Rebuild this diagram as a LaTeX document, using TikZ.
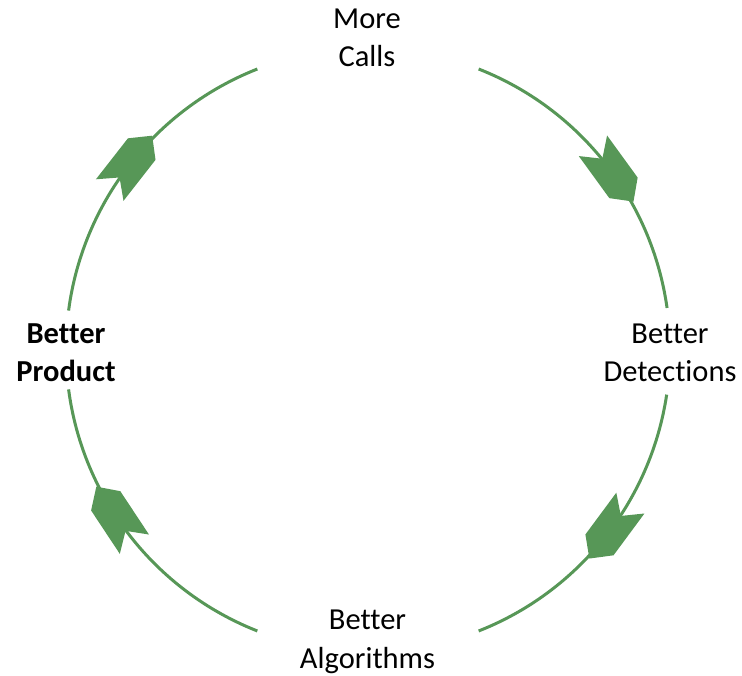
\documentclass[tikz,border=0pt]{standalone}
\usepackage{fontspec}
\setmainfont{Carlito}[RawFeature={-liga}]
\usetikzlibrary{calc}
\definecolor{cycgreen}{RGB}{87,151,87}
\begin{document}
\begin{tikzpicture}[x=1pt,y=1pt,
  cycarc/.style={draw=cycgreen, line width=3pt},
  cychead/.style={fill=cycgreen},
  lbl/.style={align=center, inner sep=0pt, font=\fontsize{30.5}{38.5}\selectfont}]
\useasboundingbox (0,0) rectangle (742,676);
\coordinate (c) at (368,326);
\node[lbl] (calls) at (367,638.3) {More\\Calls};
\node[lbl] (detect) at (670,323.3) {Better\\Detections};
\node[lbl] (algo) at (367.5,34) {Better\\Algorithms};
\node[lbl, font=\fontsize{30.5}{38.5}\selectfont\bfseries] (product) at (66,323.3) {Better\\Product};
\draw[cycarc] ($(c)+(68.5:302)$) arc[start angle=68.5, end angle=8, radius=302];
\draw[cycarc] ($(c)+(-8.5:302)$) arc[start angle=-8.5, end angle=-68.5, radius=302];
\draw[cycarc] ($(c)+(248.5:302)$) arc[start angle=248.5, end angle=187.5, radius=302];
\draw[cycarc] ($(c)+(172.5:302)$) arc[start angle=172.5, end angle=111.5, radius=302];
\foreach \a in {36,-36.5,213.5,142}{
  \fill[cychead, shift={($(c)+(\a:302)$)}, rotate={\a-90}]
    (-33,17.5) -- (-17,0) -- (-33,-17.5) -- (19,-17.5) -- (36,0) -- (19,17.5) -- cycle;
}
\end{tikzpicture}
\end{document}
